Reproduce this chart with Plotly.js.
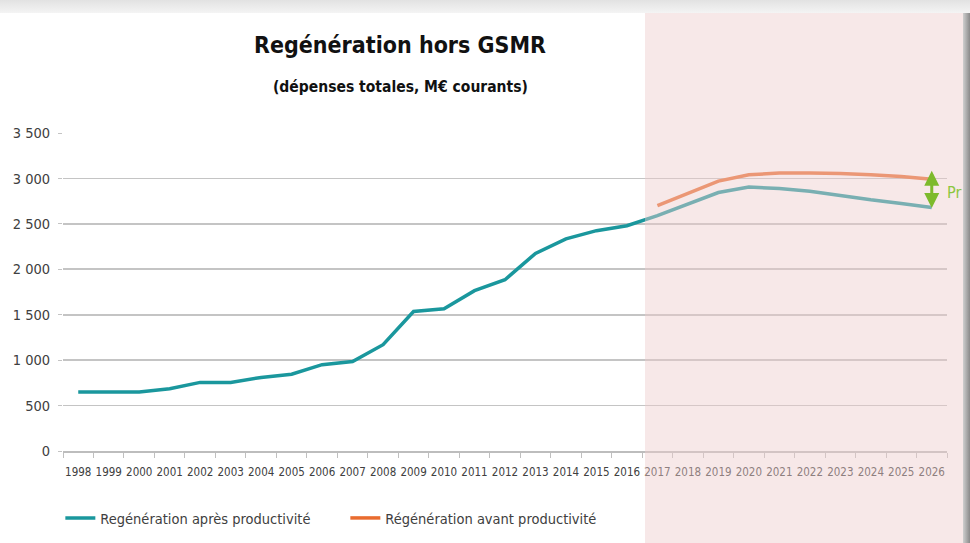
<!DOCTYPE html>
<html><head><meta charset="utf-8">
<script src="https://cdn.plot.ly/plotly-3.0.1.min.js"></script>
<style>
html,body{margin:0;padding:0;width:970px;height:543px;overflow:hidden;background:#fff;}
#topband{position:absolute;left:0;top:0;width:970px;height:13px;background:linear-gradient(#e2e2e2,#f4f4f4);}
#rightband{position:absolute;left:963px;top:13px;width:7px;height:530px;background:linear-gradient(to right,#cfcfcf,#8a8a8a);}
#chart{position:absolute;left:0;top:13px;width:963px;height:530px;overflow:hidden;}
</style></head><body>
<div id="topband"></div><div id="rightband"></div><div id="chart"></div>
<script>
const years = ["1998","1999","2000","2001","2002","2003","2004","2005","2006","2007","2008","2009","2010","2011","2012","2013","2014","2015","2016","2017","2018","2019","2020","2021","2022","2023","2024","2025","2026"];
const apresProductivite = [650,650,650,685,755,755,810,845,950,985,1170,1535,1565,1765,1885,2175,2335,2425,2480,2590,2720,2845,2905,2890,2860,2810,2765,2725,2680];
const avantYears = ["2017","2018","2019","2020","2021","2022","2023","2024","2025","2026"];
const avantProductivite = [2700,2835,2970,3040,3060,3060,3055,3040,3020,2990];
const seriesNames = ["Regénération après productivité","Régénération avant productivité"];
const titleText = "Regénération hors GSMR";
const subtitleText = "(dépenses totales, M€ courants)";
const arrowTop = 3085, arrowBottom = 2565, arrowLabelY = 2840;
const arrowLabel = "Pr";

const NARROW = "'Liberation Sans Narrow', 'DejaVu Sans Condensed', sans-serif";
const TXT = "#404040";

const traces = [
  {x: years, y: apresProductivite, type: "scatter", mode: "lines", name: seriesNames[0],
   line: {color: "#1a979d", width: 3.5}, hoverinfo: "skip"},
  {x: avantYears, y: avantProductivite, type: "scatter", mode: "lines", name: seriesNames[1],
   line: {color: "#e96c2f", width: 3.5}, hoverinfo: "skip"}
];

const layout = {
  width: 963, height: 530, autosize: false,
  margin: {l: 63, r: 16, t: 120, b: 92, autoexpand: false},
  paper_bgcolor: "#ffffff", plot_bgcolor: "#ffffff",
  separators: ", ",
  showlegend: true,
  title: {text: titleText, x: 400/963, xref: "container", xanchor: "center",
          y: 1 - 32/530, yref: "container", yanchor: "middle", automargin: false,
          font: {family: NARROW, size: 23, color: "#111", weight: "bold"}},
  xaxis: {type: "category", range: [-0.5, 28.5], tickson: "boundaries",
          ticks: "outside", ticklen: 5, tickcolor: "#bfbfbf", tickwidth: 1,
          showline: true, linecolor: "#bdbdbd", linewidth: 1.5, showgrid: false,
          zeroline: false, tickangle: 0, fixedrange: true, ticklabelstandoff: 10, automargin: false,
          tickfont: {family: NARROW, size: 11.5, color: TXT}},
  yaxis: {range: [0, 3500], dtick: 500, tick0: 0, showgrid: true, gridcolor: "#c4c4c4",
          gridwidth: 1.8, zeroline: false, showline: false, ticks: "outside", ticklen: 4,
          tickcolor: "#c4c4c4", separatethousands: true, fixedrange: true, ticklabelstandoff: 5, automargin: false,
          tickfont: {family: NARROW, size: 14.5, color: TXT}},
  legend: {orientation: "h", x: -0.003, xanchor: "left", y: -0.2107, yanchor: "middle",
           font: {family: NARROW, size: 14.5, color: TXT}, entrywidth: 240, entrywidthmode: "pixels",
           bgcolor: "rgba(0,0,0,0)"},
  shapes: [
    {type: "rect", xref: "paper", yref: "paper", x0: (645-63)/884, x1: 1.03, y0: -0.35, y1: 1.4,
     fillcolor: "rgba(238,205,205,0.45)", line: {width: 0}, layer: "above"}
  ],
  annotations: [
    {xref: "paper", yref: "paper", x: (400-63)/884, y: (438-74)/318, xanchor: "center", yanchor: "middle",
     text: subtitleText, showarrow: false,
     font: {family: NARROW, size: 15.5, color: "#111", weight: "bold"}},
    {xref: "x", yref: "y", x: 28, y: arrowTop, axref: "x", ayref: "y", ax: 28, ay: arrowBottom,
     text: " ", showarrow: true, arrowside: "end+start", arrowhead: 2, arrowsize: 1, arrowwidth: 3,
     arrowcolor: "#7dba2c", standoff: 0, startstandoff: 0},
    {xref: "paper", yref: "y", x: 1.0, y: arrowLabelY, xanchor: "left", yanchor: "middle",
     text: arrowLabel, showarrow: false, xshift: -2,
     font: {family: NARROW, size: 16, color: "#8cc63f"}}
  ]
};

Plotly.newPlot("chart", traces, layout, {displayModeBar: false, staticPlot: true});
</script>
</body></html>
